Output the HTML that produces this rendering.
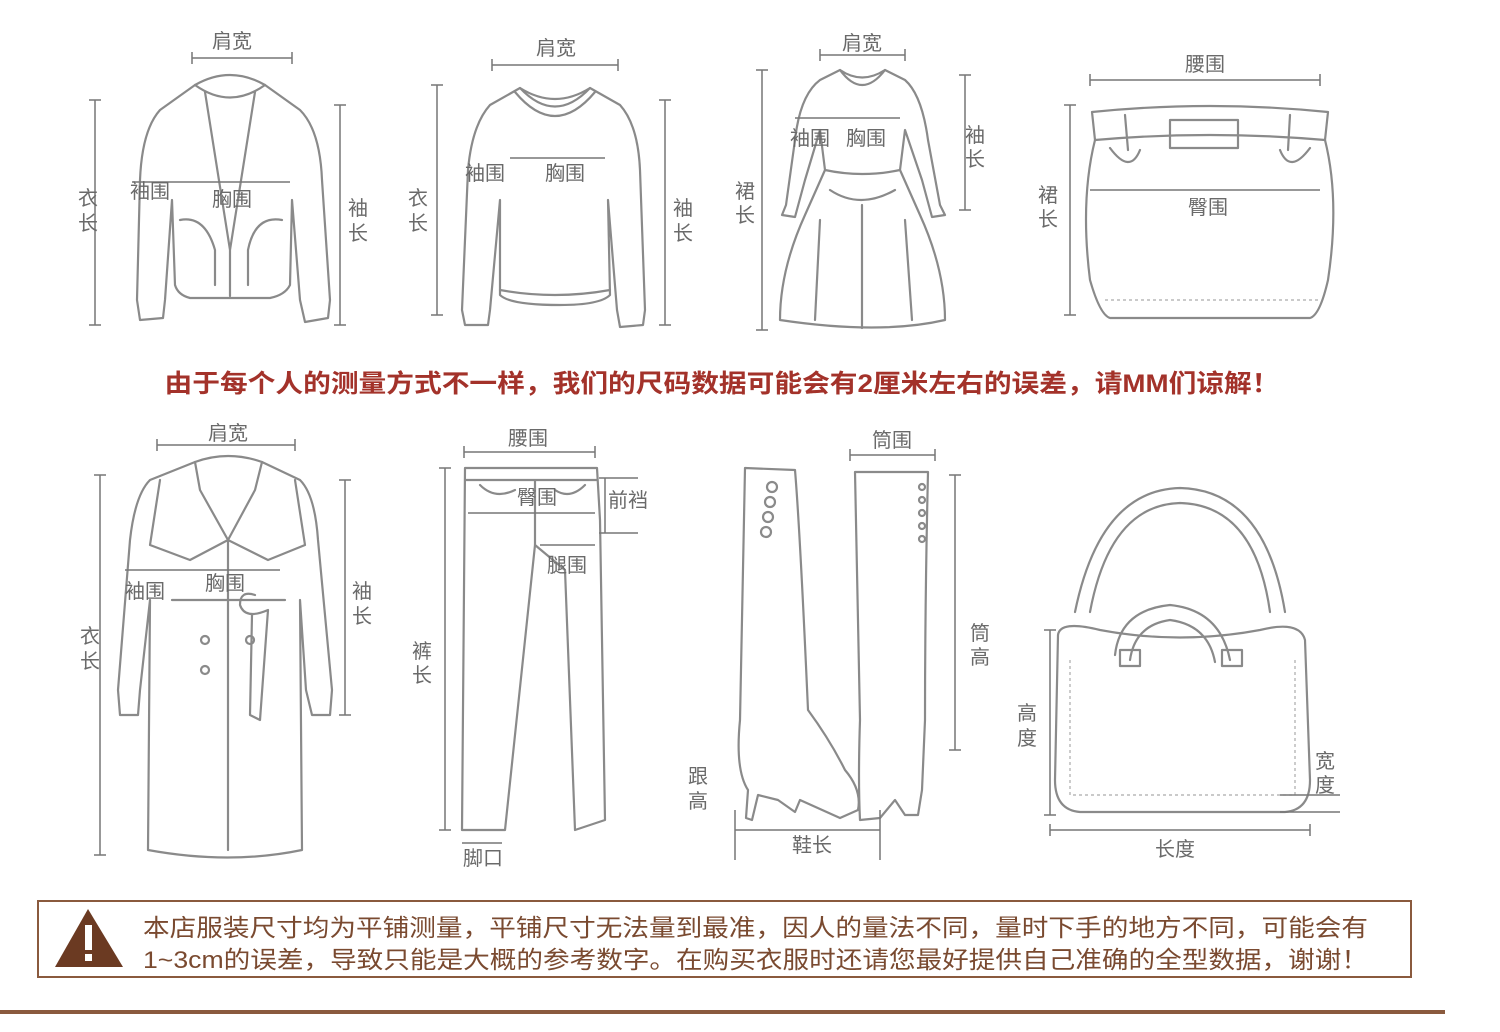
<!DOCTYPE html>
<html><head><meta charset="utf-8"><style>
html,body{margin:0;padding:0;background:#fff;}
svg{display:block;}
.o{fill:none;stroke:#8a8a8a;stroke-width:2.2;stroke-linejoin:round;stroke-linecap:round;}
.t{fill:none;stroke:#aaa;stroke-width:1.2;stroke-dasharray:3 3;}
.d{stroke:#777;stroke-width:1.5;fill:none;}
.l{font-family:"Liberation Sans","Noto Sans CJK SC",sans-serif;font-size:20px;fill:#6a6a6a;text-anchor:middle;}
</style></head><body>
<svg width="1500" height="1032" viewBox="0 0 1500 1032" xmlns="http://www.w3.org/2000/svg">
<rect width="1500" height="1032" fill="#fff"/>

<!-- ===== Jacket ===== -->
<path class="o" d="M195,85 Q230,65 265,85 L300,110 Q320,130 322,180 L330,300 L328,318 L305,322 L300,300 L292,200 L290,285 Q285,295 270,298 L190,298 Q178,295 175,285 L172,200 L165,300 L163,318 L140,320 L137,300 L140,180 Q142,130 160,110 Z"/>
<path class="o" d="M195,85 Q230,110 265,85 M205,92 L230,250 L255,92 M230,250 L230,296"/>
<path class="o" d="M180,220 Q205,215 215,250 L215,285 M282,220 Q255,215 248,250 L248,285"/>
<path class="d" d="M192,58 L292,58 M192,52 L192,64 M292,52 L292,64 M132,182 L290,182 M95,100 L95,325 M89,100 L101,100 M89,325 L101,325 M340,105 L340,325 M334,105 L346,105 M334,325 L346,325"/>
<text class="l" x="232" y="48">肩宽</text>
<text class="l" x="150" y="198">袖围</text>
<text class="l" x="232" y="206">胸围</text>
<text class="l" x="88" y="205">衣</text><text class="l" x="88" y="230">长</text>
<text class="l" x="358" y="215">袖</text><text class="l" x="358" y="240">长</text>

<!-- ===== Sweater ===== -->
<path class="o" d="M520,88 Q555,110 590,88 L620,105 Q638,125 640,170 L645,310 L643,325 L620,327 L617,310 L608,200 L610,295 Q600,305 560,305 Q510,305 500,295 L500,200 L490,310 L488,325 L465,325 L462,310 L468,170 Q472,125 490,105 Z"/>
<path class="o" d="M520,88 Q555,125 590,88 M515,92 Q555,140 595,92 M500,290 Q555,300 610,290"/>
<path class="d" d="M492,65 L618,65 M492,59 L492,71 M618,59 L618,71 M510,158 L605,158 M437,85 L437,315 M431,85 L443,85 M431,315 L443,315 M665,100 L665,325 M659,100 L671,100 M659,325 L671,325"/>
<text class="l" x="556" y="55">肩宽</text>
<text class="l" x="485" y="180">袖围</text>
<text class="l" x="565" y="180">胸围</text>
<text class="l" x="418" y="205">衣</text><text class="l" x="418" y="230">长</text>
<text class="l" x="683" y="215">袖</text><text class="l" x="683" y="240">长</text>

<!-- ===== Dress ===== -->
<path class="o" d="M840,70 Q862,85 885,70 L905,80 Q922,95 928,140 L940,205 L945,215 L932,217 L922,180 L905,130 L900,170 L920,215 Q945,270 945,320 Q880,335 780,320 Q780,270 805,215 L825,170 L820,130 L805,180 L795,217 L782,215 L786,205 L795,140 Q800,95 820,80 Z"/>
<path class="o" d="M840,70 Q862,100 885,70 M825,170 Q862,178 900,170 M830,190 Q860,210 895,190 M820,220 L815,320 M862,205 L862,328 M905,220 L912,320"/>
<path class="d" d="M820,55 L905,55 M820,49 L820,61 M905,49 L905,61 M795,118 L900,118 M762,70 L762,330 M756,70 L768,70 M756,330 L768,330 M965,75 L965,210 M959,75 L971,75 M959,210 L971,210"/>
<text class="l" x="862" y="50">肩宽</text>
<text class="l" x="810" y="145">袖围</text>
<text class="l" x="866" y="145">胸围</text>
<text class="l" x="745" y="198">裙</text><text class="l" x="745" y="222">长</text>
<text class="l" x="975" y="142">袖</text><text class="l" x="975" y="166">长</text>

<!-- ===== Skirt ===== -->
<path class="o" d="M1092,112 Q1210,100 1328,112 L1325,140 Q1210,130 1095,140 Z"/>
<path class="o" d="M1095,140 Q1080,200 1090,280 Q1100,315 1110,318 L1310,318 Q1320,315 1328,280 Q1340,200 1325,140"/>
<rect class="o" x="1170" y="120" width="68" height="28"/>
<path class="o" d="M1125,115 L1128,150 M1290,115 L1288,150 M1110,148 Q1130,175 1140,150 M1310,148 Q1290,175 1280,150"/>
<path class="t" d="M1105,300 L1318,300"/>
<path class="d" d="M1090,80 L1320,80 M1090,74 L1090,86 M1320,74 L1320,86 M1090,190 L1320,190 M1070,105 L1070,315 M1064,105 L1076,105 M1064,315 L1076,315"/>
<text class="l" x="1205" y="71">腰围</text>
<text class="l" x="1208" y="214">臀围</text>
<text class="l" x="1048" y="202">裙</text><text class="l" x="1048" y="226">长</text>

<!-- ===== Red text ===== -->
<text x="722" y="392" style="font-family:'Liberation Sans','Noto Sans CJK SC',sans-serif;font-size:25px;fill:#a3322a;text-anchor:middle;font-weight:bold;" textLength="1115" lengthAdjust="spacingAndGlyphs">由于每个人的测量方式不一样，我们的尺码数据可能会有2厘米左右的误差，请MM们谅解！</text>

<!-- ===== Coat ===== -->
<path class="o" d="M195,462 Q228,450 262,462 L300,480 Q315,495 318,540 L332,690 L330,715 L312,715 L306,690 L300,600 L302,850 Q230,865 148,850 L150,600 L140,690 L138,715 L120,715 L118,690 L130,540 Q135,495 150,480 Z"/>
<path class="o" d="M195,462 L200,490 L228,540 L255,490 L262,462 M160,480 L150,545 L190,560 L228,540 L268,560 L305,545 L295,480 M228,540 L228,850 M172,600 L285,600 M255,595 Q240,590 240,605 Q245,620 268,610 L260,720 L250,715 L252,615"/>
<circle class="o" cx="205" cy="640" r="4"/><circle class="o" cx="205" cy="670" r="4"/><circle class="o" cx="250" cy="640" r="4"/>
<path class="d" d="M157,445 L295,445 M157,439 L157,451 M295,439 L295,451 M125,570 L280,570 M100,475 L100,855 M94,475 L106,475 M94,855 L106,855 M345,480 L345,715 M339,480 L351,480 M339,715 L351,715"/>
<text class="l" x="228" y="440">肩宽</text>
<text class="l" x="145" y="598">袖围</text>
<text class="l" x="225" y="590">胸围</text>
<text class="l" x="90" y="643">衣</text><text class="l" x="90" y="668">长</text>
<text class="l" x="362" y="598">袖</text><text class="l" x="362" y="623">长</text>

<!-- ===== Pants ===== -->
<path class="o" d="M465,468 L597,468 L600,520 L605,820 L575,830 L565,570 L535,545 L505,830 L462,830 Z"/>
<path class="o" d="M465,480 L597,480 M535,480 L535,545 M480,485 Q495,500 515,490 M585,485 Q570,500 555,490"/>
<path class="d" d="M464,452 L595,452 M464,446 L464,458 M595,446 L595,458 M468,513 L595,513 M540,545 L595,545 M605,478 L605,533 M599,478 L638,478 M599,533 L638,533 M462,843 L502,843 M445,468 L445,830 M439,468 L451,468 M439,830 L451,830"/>
<text class="l" x="528" y="445">腰围</text>
<text class="l" x="537" y="504">臀围</text>
<text class="l" x="628" y="507">前裆</text>
<text class="l" x="567" y="572">腿围</text>
<text class="l" x="483" y="865">脚口</text>
<text class="l" x="422" y="658">裤</text><text class="l" x="422" y="682">长</text>

<!-- ===== Boots ===== -->
<path class="o" d="M745,468 L795,470 Q800,530 808,710 Q830,740 845,770 Q862,790 858,810 L840,818 L800,800 L795,812 L778,800 L758,795 L752,820 L746,818 L748,790 Q735,770 740,720 Z"/>
<path class="o" d="M855,472 L928,472 Q925,600 925,720 L922,790 L918,815 L905,815 L895,800 L880,818 L860,820 Q858,780 860,720 Z"/>
<circle class="o" cx="772" cy="487" r="5"/><circle class="o" cx="770" cy="502" r="5"/><circle class="o" cx="768" cy="517" r="5"/><circle class="o" cx="766" cy="532" r="5"/>
<circle class="o" cx="922" cy="487" r="3"/><circle class="o" cx="922" cy="500" r="3"/><circle class="o" cx="922" cy="513" r="3"/><circle class="o" cx="922" cy="526" r="3"/><circle class="o" cx="922" cy="539" r="3"/>
<path class="d" d="M850,455 L935,455 M850,449 L850,461 M935,449 L935,461 M955,475 L955,750 M949,475 L961,475 M949,750 L961,750 M735,830 L880,830 M735,810 L735,860 M880,810 L880,860"/>
<text class="l" x="892" y="447">筒围</text>
<text class="l" x="980" y="640">筒</text><text class="l" x="980" y="664">高</text>
<text class="l" x="698" y="783">跟</text><text class="l" x="698" y="808">高</text>
<text class="l" x="812" y="852">鞋长</text>

<!-- ===== Bag ===== -->
<path class="o" d="M1075,612 Q1100,490 1180,488 Q1265,490 1285,612 M1090,612 Q1110,505 1180,503 Q1255,505 1270,612"/>
<path class="o" d="M1058,635 Q1060,620 1100,630 Q1180,645 1260,630 Q1300,620 1305,640 L1310,780 Q1310,810 1285,812 L1080,812 Q1055,810 1055,780 Z"/>
<path class="o" d="M1115,655 Q1120,610 1170,605 Q1220,610 1230,660 M1130,660 Q1135,625 1170,620 Q1208,625 1215,662"/>
<rect class="o" x="1120" y="650" width="20" height="16"/><rect class="o" x="1222" y="650" width="20" height="16"/>
<path class="t" d="M1070,660 L1070,795 L1295,795 L1295,660"/>
<path class="d" d="M1050,630 L1050,815 M1044,630 L1056,630 M1044,815 L1056,815 M1050,830 L1310,830 M1050,824 L1050,836 M1310,824 L1310,836 M1280,795 L1340,795 M1280,812 L1340,812"/>
<text class="l" x="1027" y="720">高</text><text class="l" x="1027" y="745">度</text>
<text class="l" x="1325" y="768">宽</text><text class="l" x="1325" y="792">度</text>
<text class="l" x="1175" y="856">长度</text>

<!-- ===== Warning box ===== -->
<rect x="38" y="901" width="1373" height="76" fill="#fff" stroke="#8a5a3e" stroke-width="2"/>
<path d="M88,909 L123,967 L55,967 Z" fill="#6b3a22"/>
<rect x="85" y="925" width="7" height="25" fill="#fff"/><rect x="85" y="954" width="7" height="7" fill="#fff"/>
<text x="143" y="936" style="font-family:'Liberation Sans','Noto Sans CJK SC',sans-serif;font-size:24px;fill:#7a4a30;" textLength="1225" lengthAdjust="spacingAndGlyphs">本店服装尺寸均为平铺测量，平铺尺寸无法量到最准，因人的量法不同，量时下手的地方不同，可能会有</text>
<text x="143" y="968" style="font-family:'Liberation Sans','Noto Sans CJK SC',sans-serif;font-size:24px;fill:#7a4a30;" textLength="1225" lengthAdjust="spacingAndGlyphs">1~3cm的误差，导致只能是大概的参考数字。在购买衣服时还请您最好提供自己准确的全型数据，谢谢！</text>
<rect x="0" y="1010" width="1445" height="4" fill="#8a5a3e"/>
</svg>
</body></html>
